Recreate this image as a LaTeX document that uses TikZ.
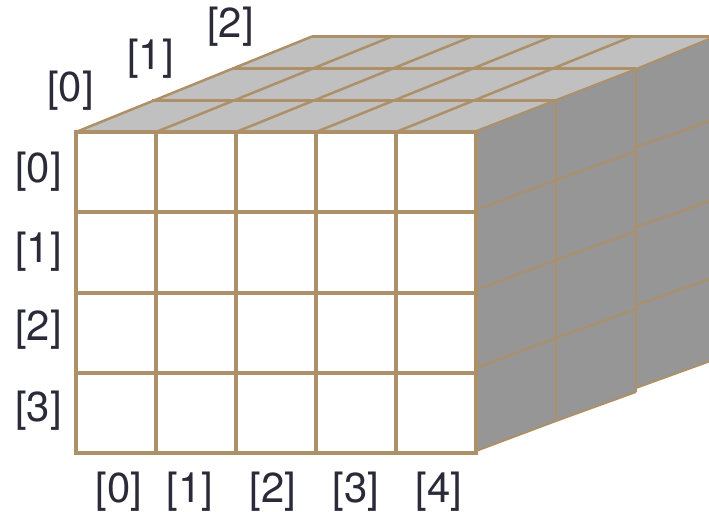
\documentclass[tikz,border=0pt]{standalone}
\usepackage{fontspec}
\setmainfont{TeX Gyre Heros}
\definecolor{edgecol}{HTML}{AE9068}
\definecolor{topcol}{HTML}{C0C0C0}
\definecolor{sidecol}{HTML}{969696}
\definecolor{labcol}{HTML}{2A2A38}
\tikzset{
  idx/.style={text=labcol,font=\fontsize{42}{42}\selectfont,inner sep=0pt,anchor=center},
  frontline/.style={draw=edgecol,line width=4bp},
  topline/.style={draw=edgecol,line width=2.5bp},
  sideline/.style={draw=edgecol,line width=2bp}
}
\begin{document}
\begin{tikzpicture}[x=1bp,y=-1bp]
\useasboundingbox (0,0) rectangle (709,512);
\begin{scope}
\clip (0,0) rectangle (709,512);
% top face
\fill[topcol] (76,132) -- (312,36) -- (720,36) -- (476,132) -- cycle;
% side face
\fill[sidecol] (476,131) -- (556,100) -- (636,69) -- (716,37) -- (716,359) -- (636,388) -- (636,392) -- (556,421) -- (476,451) -- cycle;
% top grid
\draw[topline] (312,36.5) -- (716,36.5);
\draw[topline] (232,68.5) -- (636,68.5);
\draw[topline] (152,100.5) -- (556,100.5);
\foreach \i in {0,...,4}{
  \draw[topline] (76+80*\i,132) -- (312+80*\i,36.5);
}
% side grid
\draw[sideline] (476,131) -- (556,100) -- (636,69) -- (716,36);
\draw[sideline] (476,210) -- (556,180) -- (636,151);
\draw[sideline] (636,147) -- (716,119);
\draw[sideline] (476,290) -- (556,260) -- (636,231);
\draw[sideline] (636,227) -- (716,199);
\draw[sideline] (476,368) -- (556,338) -- (636,309);
\draw[sideline] (636,305) -- (716,277);
\draw[sideline] (476,451) -- (556,421) -- (636,392);
\draw[sideline] (636,388) -- (716,359);
\draw[sideline] (556,100) -- (556,421);
\draw[sideline] (636,69) -- (636,392);
\end{scope}
% front grid
\foreach \i in {0,...,5}{
  \draw[frontline] (76+80*\i,130.5) -- (76+80*\i,454.5);
}
\foreach \j in {0,...,4}{
  \draw[frontline] (74,132.5+80*\j) -- (478,132.5+80*\j);
}
% labels
\node[idx] (d0) at (70.5,91) {[0]};
\node[idx] (d1) at (150.5,59) {[1]};
\node[idx] (d2) at (230.5,27) {[2]};
\node[idx] (r0) at (38.5,172) {[0]};
\node[idx] (r1) at (38.5,252) {[1]};
\node[idx] (r2) at (38.5,330) {[2]};
\node[idx] (r3) at (38.5,411) {[3]};
\node[idx] (c0) at (119,492) {[0]};
\node[idx] (c1) at (190,492) {[1]};
\node[idx] (c2) at (273,492) {[2]};
\node[idx] (c3) at (356,492) {[3]};
\node[idx] (c4) at (439,492) {[4]};
\end{tikzpicture}
\end{document}
